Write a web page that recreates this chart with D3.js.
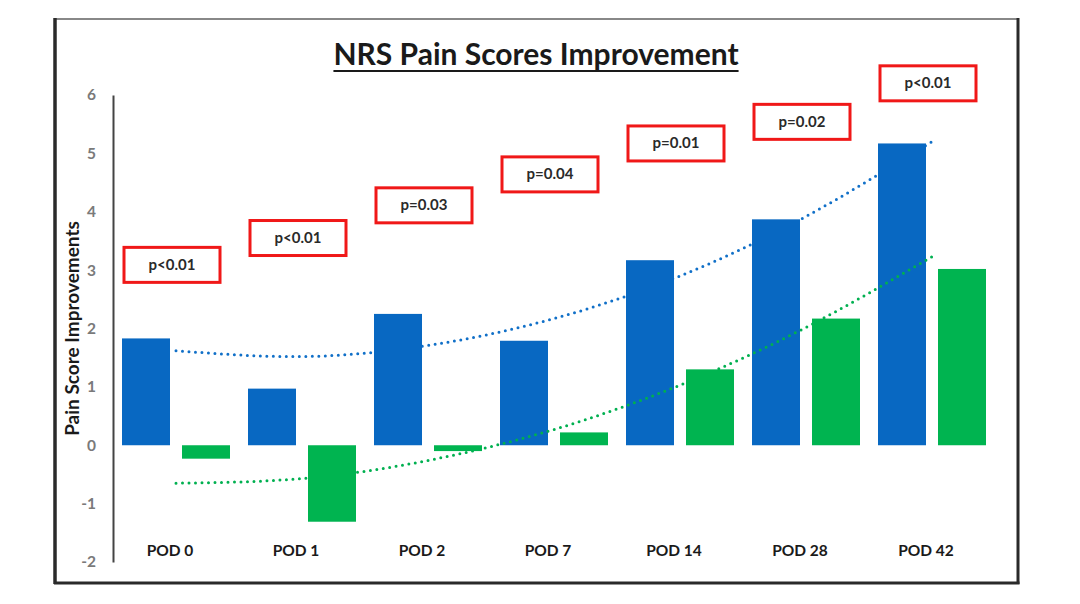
<!DOCTYPE html>
<html>
<head>
<meta charset="utf-8">
<script src="https://d3js.org/d3.v7.min.js"></script>
<style>
  body { margin: 0; background: #fff; }
  text { font-family: Lato, "Open Sans", sans-serif; }
</style>
</head>
<body>
<div id="chart"></div>
<script>
// data
var categories = ["POD 0", "POD 1", "POD 2", "POD 7", "POD 14", "POD 28", "POD 42"];
var blueValues = [1.83, 0.97, 2.25, 1.79, 3.17, 3.87, 5.17];
var greenValues = [-0.23, -1.31, -0.10, 0.22, 1.30, 2.17, 3.02];
// dotted trend lines, read at each category
var blueTrend = [1.62, 1.52, 1.71, 2.17, 2.90, 3.92, 5.20];
var greenTrend = [-0.65, -0.57, -0.26, 0.27, 1.03, 2.02, 3.23];
// p-value boxes: label and height of box centre
var pLabels = ["p<0.01", "p<0.01", "p=0.03", "p=0.04", "p=0.01", "p=0.02", "p<0.01"];
var pLevels = [3.09, 3.55, 4.11, 4.64, 5.17, 5.54, 6.20];
var yTicks = [-2, -1, 0, 1, 2, 3, 4, 5, 6];

var svgWidth = 1080;
var svgHeight = 604;
var blue = "#0868c2";
var green = "#00b450";

var svg = d3.select("#chart")
    .append("svg")
    .attr("width", svgWidth)
    .attr("height", svgHeight);

svg.append("rect")
    .attr("width", svgWidth)
    .attr("height", svgHeight)
    .attr("fill", "#fff");

// frame
svg.append("line").attr("x1", 55).attr("x2", 1018).attr("y1", 19).attr("y2", 19)
    .attr("stroke", "#888").attr("stroke-width", 2);
svg.append("line").attr("x1", 55).attr("x2", 55).attr("y1", 18).attr("y2", 584)
    .attr("stroke", "#2a2a2a").attr("stroke-width", 3.5);
svg.append("line").attr("x1", 1018).attr("x2", 1018).attr("y1", 18).attr("y2", 584)
    .attr("stroke", "#2a2a2a").attr("stroke-width", 3);
svg.append("line").attr("x1", 54).attr("x2", 1019.5).attr("y1", 583).attr("y2", 583)
    .attr("stroke", "#2a2a2a").attr("stroke-width", 3);

var x0 = d3.scaleBand()
    .domain(categories)
    .range([113, 995])
    .paddingInner(1 / 7)
    .paddingOuter(1 / 14);

var x1 = d3.scaleBand()
    .domain(["blue", "green"])
    .range([0, x0.bandwidth()])
    .paddingInner(0.2);

var y = d3.scaleLinear()
    .domain([-2, 6])
    .range([562, 95]);

var mid = d => x0(d) + x0.bandwidth() / 2;

// y axis
var leftAxis = d3.axisLeft(y)
    .tickValues(yTicks)
    .tickFormat(d => String(d))
    .tickSize(0)
    .tickSizeOuter(0)
    .tickPadding(17);

var yAxis = svg.append("g")
    .attr("transform", "translate(113, 0)")
    .call(leftAxis);
yAxis.select(".domain").attr("stroke", "#444").attr("stroke-width", 2);
yAxis.selectAll("text")
    .attr("font-family", "Lato, 'Open Sans', sans-serif")
    .attr("font-size", 15.5)
    .attr("font-weight", "bold")
    .attr("fill", "#7a7a7a");

svg.append("text")
    .attr("transform", `translate(79, ${(y(6) + y(-2)) / 2}) rotate(-90)`)
    .attr("text-anchor", "middle")
    .attr("font-size", 19)
    .attr("font-weight", "bold")
    .attr("fill", "#1a1a1a")
    .text("Pain Score Improvements");

// title
var title = svg.append("text")
    .attr("x", 536)
    .attr("y", 65)
    .attr("text-anchor", "middle")
    .attr("font-size", 30)
    .attr("font-weight", "bold")
    .attr("fill", "#1a1a1a")
    .text("NRS Pain Scores Improvement");
var tw = title.node().getComputedTextLength();
svg.append("line")
    .attr("x1", 536 - tw / 2).attr("x2", 536 + tw / 2)
    .attr("y1", 71).attr("y2", 71)
    .attr("stroke", "#1a1a1a").attr("stroke-width", 2);

var trendLine = d3.line()
    .x((d, i) => mid(categories[i]))
    .y(d => y(d))
    .curve(d3.curveNatural);

function drawTrend(values, color) {
    svg.append("path")
        .datum(values)
        .attr("d", trendLine)
        .attr("fill", "none")
        .attr("stroke", color)
        .attr("stroke-width", 3)
        .attr("stroke-linecap", "round")
        .attr("stroke-dasharray", "0 6.5");
}

function drawBars(values, key, color) {
    svg.selectAll(".bar-" + key)
        .data(values)
        .enter()
        .append("rect")
        .attr("class", "bar-" + key)
        .attr("x", (d, i) => x0(categories[i]) + x1(key))
        .attr("y", d => y(Math.max(0, d)))
        .attr("width", x1.bandwidth())
        .attr("height", d => Math.abs(y(d) - y(0)))
        .attr("fill", color);
}

drawTrend(blueTrend, "#1170c8");
drawBars(blueValues, "blue", blue);
drawTrend(greenTrend, "#00b050");
drawBars(greenValues, "green", green);

// category labels
svg.selectAll(".cat")
    .data(categories)
    .enter()
    .append("text")
    .attr("class", "cat")
    .attr("x", d => mid(d) - 6)
    .attr("y", 556)
    .attr("text-anchor", "middle")
    .attr("font-size", 15.5)
    .attr("font-weight", "bold")
    .attr("fill", "#1a1a1a")
    .text(d => d);

// p-value boxes
var boxW = 96, boxH = 35;
var pGroup = svg.selectAll(".pbox")
    .data(pLabels)
    .enter()
    .append("g")
    .attr("class", "pbox")
    .attr("transform", (d, i) => `translate(${mid(categories[i]) - 4}, ${y(pLevels[i])})`);

pGroup.append("rect")
    .attr("x", -boxW / 2)
    .attr("y", -boxH / 2)
    .attr("width", boxW)
    .attr("height", boxH)
    .attr("fill", "#fff")
    .attr("stroke", "#f01818")
    .attr("stroke-width", 3);

pGroup.append("text")
    .attr("y", 5)
    .attr("text-anchor", "middle")
    .attr("font-size", 15)
    .attr("font-weight", "bold")
    .attr("fill", "#2a2a2a")
    .text(d => d);
</script>
</body>
</html>
